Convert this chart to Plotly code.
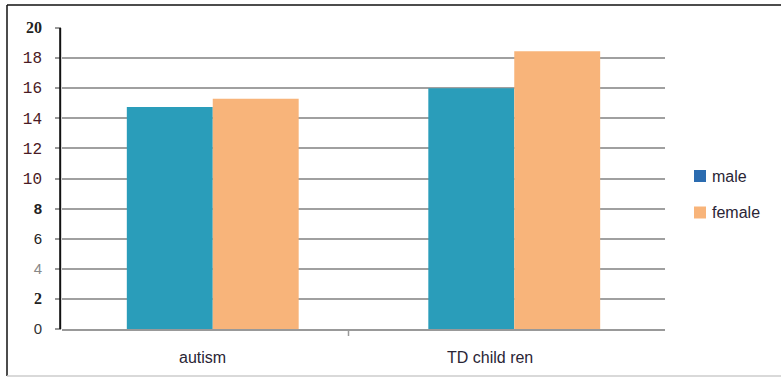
import plotly.graph_objects as go

categories = ["autism", "TD child ren"]
male = [14.75, 16.0]
female = [15.3, 18.45]
series_names = ["male", "female"]
y_ticks = [0, 2, 4, 6, 8, 10, 12, 14, 16, 18, 20]
MONO = "font-family:Liberation Mono;font-size:16px;color:#4a1a24"
y_tick_text = [
    "<span style='color:#333'>0</span>",
    "<b><span style='font-family:Liberation Serif;font-size:16px;color:#222'>2</span></b>",
    "<span style='color:#888'>4</span>",
    "<span style='color:#222'>6</span>",
    "<b><span style='color:#222'>8</span></b>",
    f"<span style='{MONO}'>10</span>",
    f"<span style='{MONO}'>12</span>",
    f"<span style='{MONO}'>14</span>",
    f"<span style='{MONO}'>16</span>",
    f"<span style='{MONO}'>18</span>",
    "<b><span style='font-family:Liberation Serif;font-size:16px;color:#222'>20</span></b>",
]
label_shift = [-10, -24]

bar_male = "#2a9dba"
bar_female = "#f8b47a"
leg_colors = ["#2b6cb0", "#f8b47a"]

W, H = 781, 378
L, R, T, B = 62, 116, 28, 49
PW, PH = W - L - R, H - T - B

def px(x):
    return (x - L) / PW

def py(y):
    return (H - B - y) / PH

fig = go.Figure()
fig.add_trace(go.Bar(x=categories, y=male, marker=dict(color=bar_male, line=dict(width=0)),
                     showlegend=False, name=series_names[0]))
fig.add_trace(go.Bar(x=categories, y=female, marker=dict(color=bar_female, line=dict(width=0)),
                     showlegend=False, name=series_names[1]))

shapes = [
    dict(type="line", xref="paper", yref="y", x0=-0.003, x1=-0.003, y0=-0.75, y1=20.4,
         line=dict(color="#111", width=2)),
    dict(type="line", xref="paper", yref="paper", x0=px(348.5), x1=px(348.5), y0=0, y1=py(336),
         line=dict(color="#999", width=1.5)),
    dict(type="line", xref="paper", yref="paper", x0=px(7), x1=px(781),
         y0=py(5), y1=py(5), line=dict(color="#111", width=1.5)),
    dict(type="line", xref="paper", yref="paper", x0=px(7), x1=px(7),
         y0=py(5), y1=py(376), line=dict(color="#111", width=1.5)),
    dict(type="line", xref="paper", yref="paper", x0=px(7), x1=px(781),
         y0=py(376), y1=py(376), line=dict(color="#ccc", width=1.5)),
]
annotations = []
for i, (name, col) in enumerate(zip(series_names, leg_colors)):
    yc = 176 + 36.5 * i
    shapes.append(dict(type="rect", xref="paper", yref="paper", x0=px(694), x1=px(706),
                       y0=py(yc - 6), y1=py(yc + 6), fillcolor=col, line=dict(width=0)))
    annotations.append(dict(xref="paper", yref="paper", x=px(710), y=py(yc), text=name,
                            showarrow=False, xanchor="left", yanchor="middle",
                            font=dict(size=16, color="#2a2535")))
for cat, sh in zip(categories, label_shift):
    annotations.append(dict(xref="x", yref="paper", x=cat, y=py(357), xshift=sh, text=cat,
                            showarrow=False, xanchor="center", yanchor="middle",
                            font=dict(size=16, color="#2a2535")))

fig.update_layout(
    width=W, height=H,
    margin=dict(l=L, r=R, t=T, b=B),
    paper_bgcolor="white", plot_bgcolor="white",
    barmode="group", bargap=0.43, bargroupgap=0,
    showlegend=False,
    font=dict(family="Liberation Sans, Arial, sans-serif", size=15, color="#2a2535"),
    xaxis=dict(showline=True, linecolor="#999", linewidth=1.5, ticks="",
               showgrid=False, showticklabels=False, range=[-0.5, 1.5]),
    yaxis=dict(range=[0, 20], tickvals=y_ticks, ticktext=y_tick_text, showgrid=True,
               gridcolor="#a0a0a0", gridwidth=1.5, zeroline=False, showline=False,
               ticks="outside", ticklen=6, tickcolor="#999", tickwidth=1.5,
               tickfont=dict(size=15), ticklabelstandoff=10),
    shapes=shapes,
    annotations=annotations,
)

fig.write_html("out.html")
